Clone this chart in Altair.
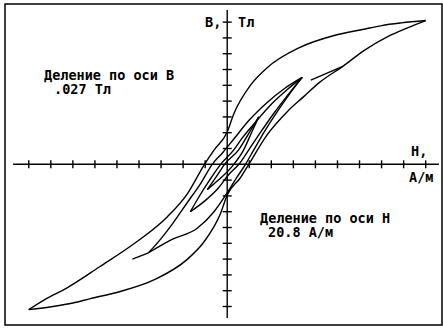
import altair as alt
import pandas as pd

# ---- data (H in divisions of 20.8 A/m, B in divisions of .027 Tl) ----
outer_down_H = [9.0, 7.9, 7.0, 6.2, 4.85, 3.3, 1.8, 1.05, 0.3, 0.0, -0.6, -1.03, -1.8, -2.7, -4.2, -5.8, -7.3, -8.2, -9.0]
outer_down_B = [9.1, 8.95, 8.78, 8.55, 8.15, 7.4, 6.1, 5.0, 3.2, 2.05, 0.9, 0.0, -1.85, -3.3, -5.0, -6.5, -7.85, -8.5, -9.2]
outer_up_H = [-9.0, -7.9, -7.0, -6.2, -4.85, -3.3, -1.8, -1.05, -0.3, 0.0, 0.6, 0.98, 1.8, 2.7, 3.48, 4.2, 5.24, 6.2, 7.3, 8.2, 9.0]
outer_up_B = [-9.2, -9.0, -8.78, -8.5, -8.05, -7.3, -6.0, -4.9, -3.1, -1.94, -0.85, 0.0, 1.85, 3.3, 4.3, 5.2, 6.2, 7.2, 8.1, 8.65, 9.1]

l1_dn_H = [3.4, 2.6, 1.8, 1.0, 0.3, -0.2, -0.68, -1.2, -1.8, -2.5, -3.0, -3.57]
l1_dn_B = [5.5, 4.8, 3.9, 2.8, 1.6, 0.75, 0.0, -1.2, -2.4, -3.8, -4.7, -5.6]
l1_up_H = [-3.57, -2.5, -1.36, -0.6, 0.0, 0.45, 0.83, 1.2, 1.7, 2.3, 2.8, 3.4]
l1_up_B = [-5.6, -4.75, -4.05, -3.0, -1.8, -0.8, 0.0, 0.9, 2.1, 3.4, 4.4, 5.5]
l2_dn_H = [3.4, 2.7, 2.0, 1.3, 0.7, 0.29, -0.3, -0.8, -1.3, -1.67]
l2_dn_B = [5.5, 4.7, 3.8, 2.7, 1.7, 0.9, 0.0, -1.0, -2.1, -3.0]
l2_up_H = [-1.67, -1.0, -0.4, 0.1, 0.53, 0.97, 1.5, 2.1, 2.7, 3.4]
l2_up_B = [-3.0, -2.3, -1.5, -0.6, 0.0, 0.9, 2.0, 3.2, 4.3, 5.5]
l3_dn_H = [1.43, 1.0, 0.51, -0.12, -0.5, -0.9]
l3_dn_B = [3.0, 2.0, 0.9, 0.0, -0.8, -1.6]
l3_up_H = [-0.9, -0.4, 0.3, 0.74, 1.1, 1.43]
l3_up_B = [-1.6, -1.0, 0.0, 0.9, 2.0, 3.0]
stroke_top_H = [3.79, 5.24]
stroke_top_B = [5.33, 6.2]
stroke_bot_H = [-3.57, -4.3]
stroke_bot_B = [-5.6, -6.0]

tick_steps = [-9, -8, -7, -6, -5, -4, -3, -2, -1, 1, 2, 3, 4, 5, 6, 7, 8, 9]
h_axis_ends = [-9.71, 9.6]
b_axis_ends = [-9.73, 9.77]
h_domain = [-10.077, 9.74]
b_domain = [-10.17, 10.146]

segments = [
    ("outer_down", outer_down_H, outer_down_B),
    ("outer_up", outer_up_H, outer_up_B),
    ("l1_dn", l1_dn_H, l1_dn_B),
    ("l1_up", l1_up_H, l1_up_B),
    ("l2_dn", l2_dn_H, l2_dn_B),
    ("l2_up", l2_up_H, l2_up_B),
    ("l3_dn", l3_dn_H, l3_dn_B),
    ("l3_up", l3_up_H, l3_up_B),
    ("s_top", stroke_top_H, stroke_top_B),
    ("s_bot", stroke_bot_H, stroke_bot_B),
]
rows = []
for name, hs, bs in segments:
    for i, (h, b) in enumerate(zip(hs, bs)):
        rows.append({"seg": name, "i": i, "H": h, "B": b})
curves = pd.DataFrame(rows)

xs = alt.Scale(domain=h_domain, nice=False, zero=False)
ys = alt.Scale(domain=b_domain, nice=False, zero=False)
X = lambda f: alt.X(f, type="quantitative", scale=xs, axis=None)
Y = lambda f: alt.Y(f, type="quantitative", scale=ys, axis=None)

loops = alt.Chart(curves).mark_line(color="black", strokeWidth=1.4, interpolate="monotone").encode(
    x=X("H"), y=Y("B"), detail="seg:N", order="i:Q"
)

haxis = alt.Chart(pd.DataFrame({"H": [h_axis_ends[0]], "H2": [h_axis_ends[1]], "B": [0]})).mark_rule(
    color="black", strokeWidth=1.4
).encode(x=X("H"), x2="H2", y=Y("B"))
baxis = alt.Chart(pd.DataFrame({"B": [b_axis_ends[0]], "B2": [b_axis_ends[1]], "H": [0]})).mark_rule(
    color="black", strokeWidth=1.4
).encode(y=Y("B"), y2="B2", x=X("H"))

ticks_df = pd.DataFrame({"v": tick_steps, "z": [0] * len(tick_steps)})
hticks = alt.Chart(ticks_df).mark_point(
    shape="M0,-1L0,1", size=64, filled=False, color="black", strokeWidth=1.4, opacity=1
).encode(x=X("v"), y=Y("z"))
bticks = alt.Chart(ticks_df).mark_point(
    shape="M-1,0L1,0", size=81, filled=False, color="black", strokeWidth=1.4, opacity=1
).encode(x=X("z"), y=Y("v"))

FONT = "DejaVu Sans Mono"
PAD_L, PAD_T = 5, 4
labels = pd.DataFrame({
    "t": ["B,", "Тл", "H,", "A/м", "Деление по оси B", ".027 Тл", "Деление по оси H", "20.8 A/м"],
    "px": [205, 238, 411, 409, 44, 54, 260, 268],
    "py": [23, 23, 152, 178, 75.5, 90, 218.5, 233],
})
labels["px"] = labels["px"] - PAD_L
labels["py"] = labels["py"] - PAD_T
texts = alt.Chart(labels).mark_text(
    align="left", baseline="middle", font=FONT, fontWeight="bold", fontSize=13.5, color="black"
).encode(x=alt.X("px:Q", scale=None), y=alt.Y("py:Q", scale=None), text="t:N")

chart = alt.layer(loops, haxis, baxis, hticks, bticks, texts).properties(
    width=437, height=321,
    padding={"left": PAD_L, "top": PAD_T, "right": 1, "bottom": 4},
    autosize=alt.AutoSizeParams(type="none"),
    background="white",
).configure_view(stroke="black", strokeWidth=1.5)

chart.save("out.html", embed_options={"renderer": "svg", "actions": False})
